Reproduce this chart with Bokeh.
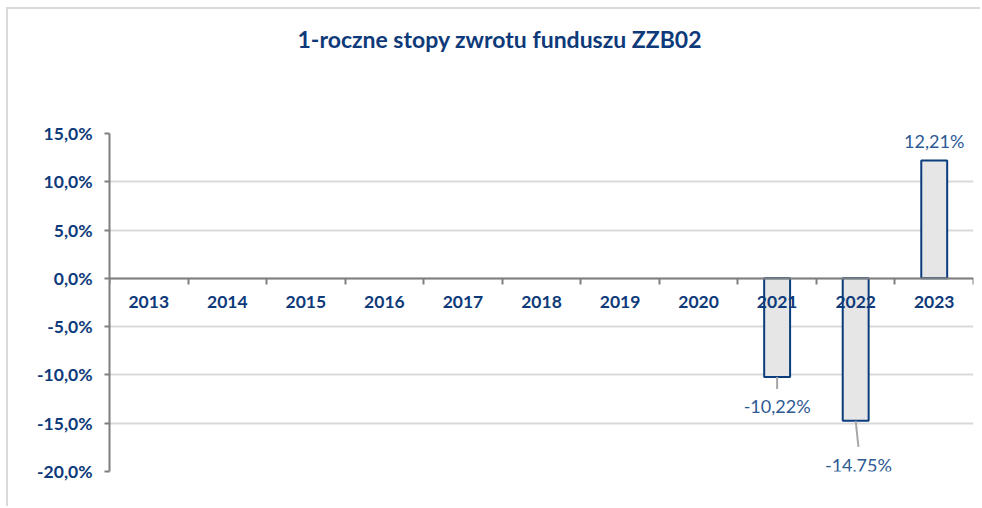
from bokeh.plotting import figure
from bokeh.models import (Range1d, LinearAxis, FixedTicker, CustomJSTickFormatter,
                          ColumnDataSource, Title)
from bokeh.core.properties import value
from bokeh.embed import file_html
from bokeh.resources import INLINE

title_text = "1-roczne stopy zwrotu funduszu ZZB02"
years = ["2013", "2014", "2015", "2016", "2017", "2018", "2019", "2020", "2021", "2022", "2023"]
returns = [None, None, None, None, None, None, None, None, -10.22, -14.75, 12.21]
label_texts = ["", "", "", "", "", "", "", "", "-10,22%", "-14,75%", "12,21%"]
y_ticks = [-20, -15, -10, -5, 0, 5, 10, 15]

NAVY = "#0E3A7A"
LABEL_BLUE = "#2D5A94"
FONT = "Lato"

n = len(years)
centers = [i + 0.5 for i in range(n)]
bounds = [float(i) for i in range(n + 1)]

p = figure(width=974, height=499, output_backend="svg", toolbar_location=None,
           x_range=Range1d(0, n), y_range=Range1d(-20, 15),
           x_axis_location=None, y_axis_location="left",
           min_border_left=101, min_border_right=9, min_border_top=124, min_border_bottom=37,
           title=title_text,
           styles={"border-top": "2px solid #d9d9d9", "border-left": "2px solid #d9d9d9",
                   "margin-left": "6px", "margin-top": "7px"})
p.outline_line_color = None
p.background_fill_color = "white"
p.border_fill_color = "white"

p.title.align = "left"
p.title.text_font = FONT
p.title.text_font_style = "bold"
p.title.text_font_size = "23px"
p.title.text_color = NAVY
p.title.offset = 188
p.title.standoff = 10

# empty spacer panel between the title and the plot area
p.add_layout(Title(text=" ", text_font_size="2px", standoff=72), "above")

# y axis
yax = p.yaxis[0]
yax.ticker = FixedTicker(ticks=y_ticks, minor_ticks=[])
yax.formatter = CustomJSTickFormatter(code="return tick.toFixed(1).replace('.', ',') + '%';")
yax.axis_line_color = "#7f7f7f"
yax.axis_line_width = 2
yax.major_tick_line_color = "#7f7f7f"
yax.major_tick_line_width = 2
yax.major_tick_out = 5
yax.major_tick_in = 0
yax.minor_tick_line_color = None
yax.major_label_standoff = 12
yax.major_label_text_font = FONT
yax.major_label_text_font_style = "bold"
yax.major_label_text_font_size = "17.5px"
yax.major_label_text_color = NAVY

p.ygrid.ticker = FixedTicker(ticks=y_ticks)
p.ygrid.grid_line_color = "#d9d9d9"
p.ygrid.grid_line_width = 2
p.xgrid.visible = False

# bars
src = ColumnDataSource(data=dict(x=[c for c, r in zip(centers, returns) if r is not None],
                                 top=[r for r in returns if r is not None]))
p.vbar(x="x", top="top", bottom=0, width=0.33, source=src,
       fill_color="#e6e6e6", line_color="#0B3C7D", line_width=2)

# x axis at zero
xax = LinearAxis(ticker=FixedTicker(ticks=centers, minor_ticks=bounds),
                 formatter=CustomJSTickFormatter(args=dict(years=years),
                                                 code="return years[Math.floor(tick)];"),
                 fixed_location=0)
xax.axis_line_color = "#7f7f7f"
xax.axis_line_width = 2
xax.major_tick_line_color = None
xax.major_tick_out = 0
xax.major_tick_in = 0
xax.minor_tick_line_color = "#7f7f7f"
xax.minor_tick_line_width = 2
xax.minor_tick_out = 6
xax.minor_tick_in = 0
xax.major_label_standoff = 12
xax.major_label_text_font = FONT
xax.major_label_text_font_style = "bold"
xax.major_label_text_font_size = "17.5px"
xax.major_label_text_color = NAVY
p.add_layout(xax, "below")

# leader lines and data labels
lead_x0, lead_y0, lead_x1, lead_y1 = [], [], [], []
lab_x, lab_y, lab_t, lab_off = [], [], [], []
for c, r, t in zip(centers, returns, label_texts):
    if r is None:
        continue
    if r >= 0:
        lab_x.append(c); lab_y.append(r); lab_t.append(t); lab_off.append(-19)
    else:
        drop = 1.25 if r > -12 else 2.7
        dx = 0.0 if r > -12 else 0.035
        lead_x0.append(c); lead_y0.append(r)
        lead_x1.append(c + dx); lead_y1.append(r - drop)
        lab_x.append(c + dx); lab_y.append(r); lab_t.append(t)
        lab_off.append(29 if r > -12 else 44)

p.segment(x0=lead_x0, y0=lead_y0, x1=lead_x1, y1=lead_y1, line_color="#a6a6a6", line_width=2)
p.text(x=lab_x, y=lab_y, text=lab_t, y_offset=lab_off, text_align="center",
       text_baseline="middle", text_font=value(FONT), text_font_size="18px",
       text_color=LABEL_BLUE)

open("out.html", "w").write(file_html(p, INLINE))
